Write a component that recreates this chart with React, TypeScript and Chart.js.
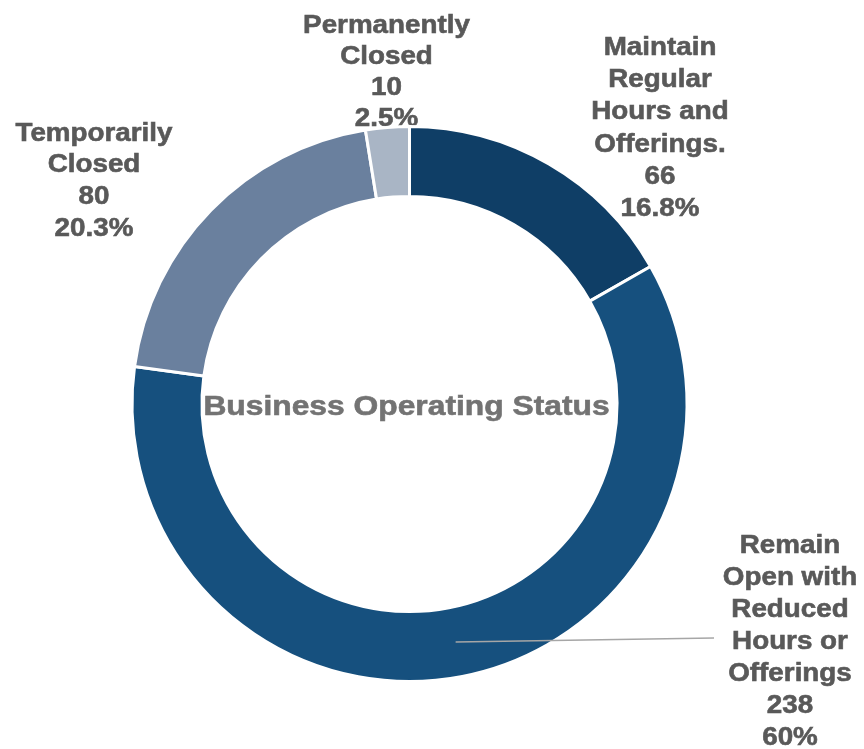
import React, { useEffect, useRef } from "react";
import { Chart, registerables } from "chart.js";

Chart.register(...registerables);

// ---- data ----
const categoryLines: string[][] = [
  ["Maintain", "Regular", "Hours and", "Offerings."],
  ["Remain", "Open with", "Reduced", "Hours or", "Offerings"],
  ["Temporarily", "Closed"],
  ["Permanently", "Closed"],
];
const values: number[] = [66, 238, 80, 10];
const percentLabels: string[] = ["16.8%", "60%", "20.3%", "2.5%"];
const sliceColors: string[] = ["#0f3e66", "#16507e", "#6a809e", "#a9b5c5"];
const centerTitle = "Business Operating Status";

// ---- layout (label anchors relative to doughnut centre, in radii) ----
const labelAnchors = [
  { dx: 0.9076, dy: -1.2645, lh: 32.2, leader: false },
  { dx: 1.3786, dy: 0.5399, lh: 32, leader: true },
  { dx: -1.1431, dy: -0.954, lh: 31.7, leader: false },
  { dx: -0.0833, dy: -1.3442, lh: 31, leader: false },
];
const BORDER = 3;
const LABEL_FONT = 'bold 25.5px "Liberation Sans", Arial, sans-serif';
const LABEL_SX = 1.09;
const TITLE_FONT = 'bold 28px "Liberation Sans", Arial, sans-serif';
const TITLE_SX = 1.135;

function drawScaledText(ctx: CanvasRenderingContext2D, t: string, x: number, y: number, sx: number) {
  ctx.save();
  ctx.translate(x, y);
  ctx.scale(sx, 1);
  ctx.fillText(t, 0, 0);
  ctx.lineWidth = 0.6;
  ctx.strokeText(t, 0, 0);
  ctx.restore();
}

function arcGeom(arc: any) {
  return arc.getProps(["x", "y", "outerRadius", "innerRadius", "startAngle", "endAngle"], true);
}

const labelPlugin = {
  id: "sliceLabels",
  beforeDatasetsDraw(chart: any) {
    const ctx: CanvasRenderingContext2D = chart.ctx;
    const meta = chart.getDatasetMeta(0);
    ctx.save();
    meta.data.forEach((arc: any, i: number) => {
      const p = arcGeom(arc);
      const r = p.outerRadius - BORDER / 2;
      const a = labelAnchors[i];
      const lx = p.x + a.dx * r;
      const ly = p.y + a.dy * r;
      const lines = [...categoryLines[i], String(values[i]), percentLabels[i]];
      ctx.fillStyle = "#595959";
      ctx.strokeStyle = "#595959";
      ctx.font = LABEL_FONT;
      ctx.textAlign = "center";
      ctx.textBaseline = "alphabetic";
      lines.forEach((t, k) => drawScaledText(ctx, t, lx, ly + k * a.lh, LABEL_SX));
    });
    ctx.restore();
  },
  afterDatasetsDraw(chart: any) {
    const ctx: CanvasRenderingContext2D = chart.ctx;
    const meta = chart.getDatasetMeta(0);
    ctx.save();
    meta.data.forEach((arc: any, i: number) => {
      const a = labelAnchors[i];
      if (!a.leader) return;
      const p = arcGeom(arc);
      const r = p.outerRadius - BORDER / 2;
      const lx = p.x + a.dx * r;
      const ly = p.y + a.dy * r;
      const mid = (p.startAngle + p.endAngle) / 2;
      const rr = (p.outerRadius + p.innerRadius) / 2;
      ctx.beginPath();
      ctx.strokeStyle = "#a6a6a6";
      ctx.lineWidth = 1.5;
      ctx.moveTo(p.x + Math.cos(mid) * rr, p.y + Math.sin(mid) * rr);
      ctx.lineTo(lx - 76, ly + 85);
      ctx.stroke();
    });
    const first = meta.data[0];
    if (first) {
      ctx.fillStyle = "#737373";
      ctx.strokeStyle = "#737373";
      ctx.font = TITLE_FONT;
      ctx.textAlign = "center";
      ctx.textBaseline = "alphabetic";
      drawScaledText(ctx, centerTitle, first.x - 3, first.y + 11, TITLE_SX);
    }
    ctx.restore();
  },
};

export default function App() {
  const ref = useRef<HTMLCanvasElement | null>(null);
  useEffect(() => {
    if (!ref.current) return;
    const chart = new Chart(ref.current, {
      type: "doughnut",
      data: {
        labels: categoryLines.map((l) => l.join(" ")),
        datasets: [
          {
            data: values,
            backgroundColor: sliceColors,
            borderColor: "#ffffff",
            borderWidth: BORDER,
          },
        ],
      },
      options: {
        responsive: false,
        animation: false,
        devicePixelRatio: 1,
        cutout: "74.8%",
        layout: { padding: { left: 130.5, top: 125, right: 175.5, bottom: 66 } },
        plugins: {
          legend: { display: false },
          tooltip: { enabled: false },
          title: { display: false },
        },
      },
      plugins: [labelPlugin],
    });
    return () => chart.destroy();
  }, []);
  return (
    <div style={{ position: "absolute", left: 0, top: 0, width: 864, height: 749, background: "#fff" }}>
      <canvas ref={ref} width={864} height={749} />
    </div>
  );
}
